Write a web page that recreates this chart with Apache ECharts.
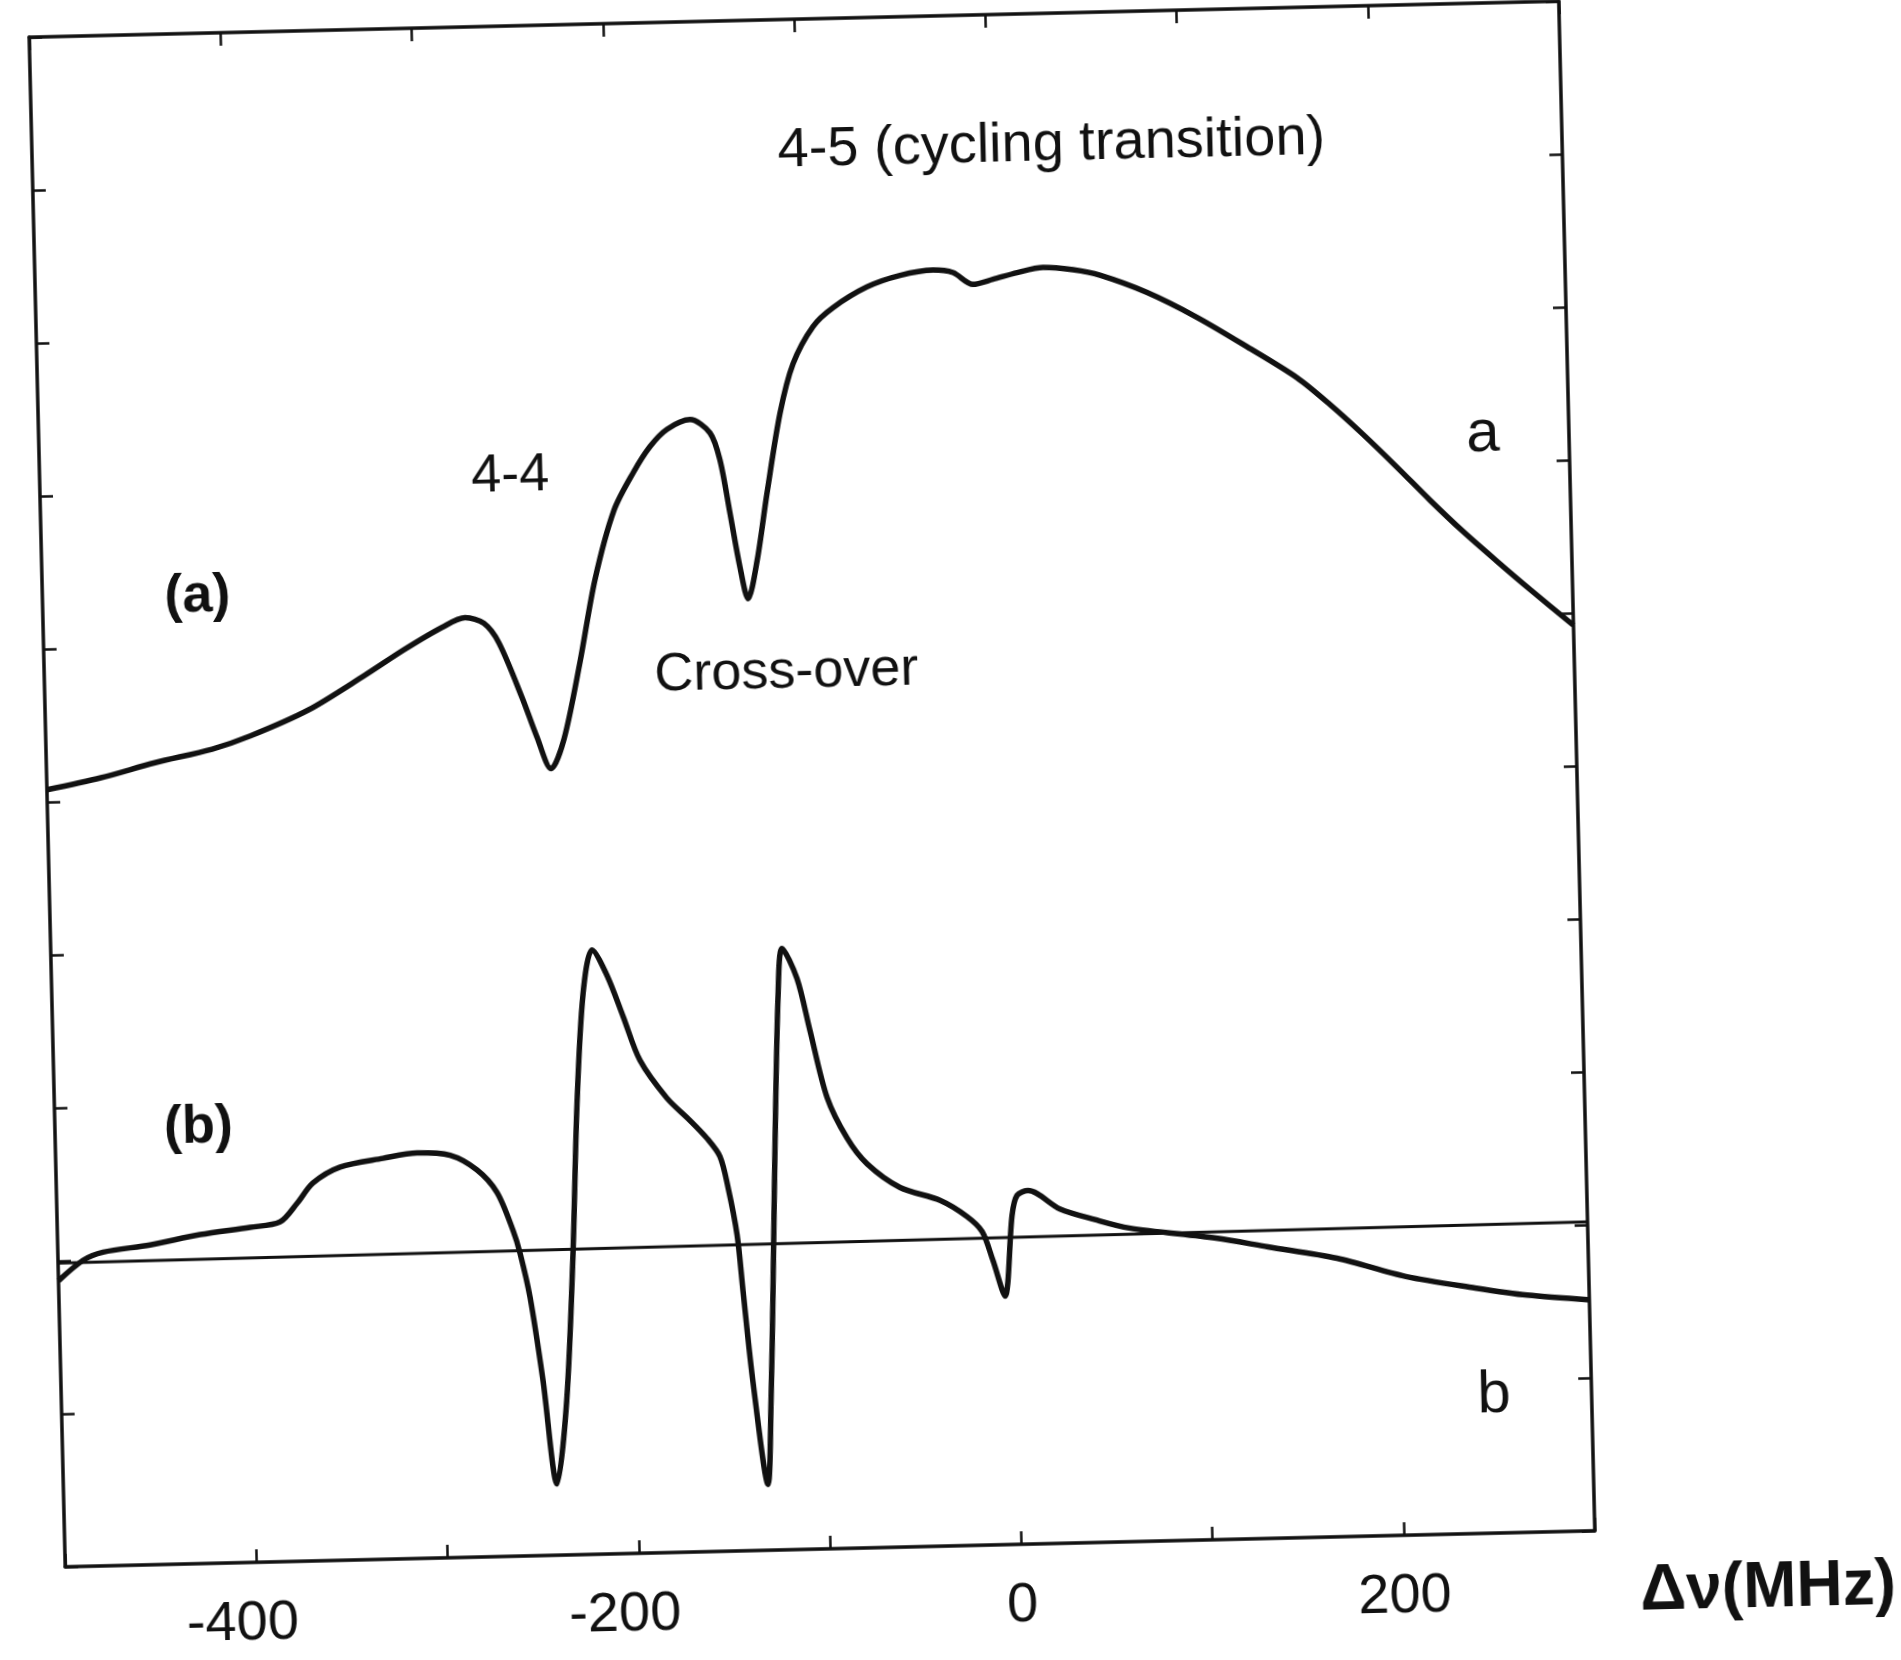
<!DOCTYPE html>
<html>
<head>
<meta charset="utf-8">
<script src="https://cdn.jsdelivr.net/npm/echarts@6/dist/echarts.min.js"></script>
<style>
  html, body { margin: 0; padding: 0; background: #fff; width: 1901px; height: 1660px; overflow: hidden; }
  #chart { position: absolute; left: 0; top: 0; width: 1901px; height: 1660px;
           transform-origin: 812px 784px; transform: rotate(-1.35deg); }
</style>
</head>
<body>
<div id="chart"></div>
<script>
// ---- data (Δν in MHz, signal in arbitrary units) ----
const freqA = [-500, -471.6, -443.2, -413.2, -393.1, -362.5, -332.3, -311.6, -291.5, -279.3,
  -269.5, -261.9, -250.5, -243.2, -236.2, -229.1, -219.8, -210.9, -200.1, -189.7,
  -180.5, -171.4, -159.3, -149.0, -144.1, -139.5, -135.0, -131.1, -125.9, -119.9,
  -112.1, -104.7, -93.8, -83.1, -65.1, -47.7, -30.4, -20.0, -9.7, 0.9,
  13.5, 27.1, 42.8, 56.8, 81.2, 107.0, 132.8, 158.5, 175.4, 192.3,
  209.7, 226.5, 243.4, 260.8, 277.8, 300];
const signalA = [50.8, 51.5, 52.4, 53.2, 54.0, 55.6, 57.8, 59.4, 60.8, 61.4,
  61.0, 59.7, 56.1, 53.5, 51.4, 53.3, 58.3, 63.7, 68.2, 70.6,
  72.3, 73.4, 74.0, 73.1, 71.3, 67.8, 64.3, 62.2, 64.7, 69.1,
  74.3, 77.5, 79.9, 81.1, 82.4, 83.1, 83.4, 83.2, 82.4, 82.7,
  83.1, 83.4, 83.2, 82.8, 81.6, 79.9, 77.9, 75.8, 74.0, 72.0,
  69.8, 67.6, 65.5, 63.5, 61.6, 59.2];

const freqB = [-500, -486.9, -476.4, -451.7, -425.4, -399.2, -383.5, -374.3, -365.8, -351.4,
  -328.9, -311.0, -293.8, -279.9, -269.7, -261.8, -258.4, -253.7, -248.0, -241.9,
  -235.8, -230.7, -226.8, -222.3, -217.0, -209.5, -201.6, -193.3, -179.7, -167.9,
  -159.2, -152.7, -148.9, -144.7, -142.3, -138.2, -131.6, -129.0, -126.6, -123.7,
  -120.3, -117.7, -110.2, -104.1, -96.0, -86.0, -75.9, -58.9, -38.2, -24.3,
  -16.6, -11.3, -5.4, -0.75, 2.1, 7.9, 24.4, 42.6, 60.3, 105.6,
  132.7, 168.6, 204.4, 240.4, 267.5, 300];
const signalB = [18.7, 20.0, 20.5, 20.9, 21.5, 21.9, 22.2, 23.4, 24.7, 25.7,
  26.2, 26.5, 26.3, 25.3, 23.8, 21.3, 19.8, 16.9, 11.5, 4.65,
  10.1, 19.7, 29.4, 36.6, 39.5, 37.8, 35.1, 32.2, 29.7, 28.2,
  27.0, 25.8, 23.8, 20.65, 17.0, 11.0, 4.3, 9.75, 17.0, 26.7,
  36.3, 39.3, 37.3, 33.9, 29.5, 26.8, 25.1, 23.5, 22.6, 21.5,
  20.5, 18.6, 16.25, 21.5, 22.8, 23.1, 21.85, 21.1, 20.5, 19.7,
  19.05, 18.2, 16.9, 16.05, 15.5, 15.1];

const baselineFreq = [-500, 300];
const baselineSignal = [19.85, 20.2];

const xTickLabels = [-400, -200, 0, 200];

// ---- rendering ----
const FONT = '"Liberation Sans", Arial, Helvetica, sans-serif';
const INK = '#111';
const zip = (xs, ys) => xs.map((x, i) => [x, ys[i]]);

const annotations = [
  { text: '4-5 (cycling transition)', x: 33, y: 91.4, size: 56, weight: 'normal' },
  { text: 'a', x: 255, y: 71.8, size: 60, weight: 'normal' },
  { text: '4-4', x: -254, y: 70.6, size: 54, weight: 'normal' },
  { text: '(a)', x: -419, y: 63.2, size: 54, weight: 'bold' },
  { text: 'Cross-over', x: -112, y: 57.3, size: 54, weight: 'normal' },
  { text: '(b)', x: -425, y: 28.5, size: 54, weight: 'bold' },
  { text: 'b', x: 249, y: 9.0, size: 60, weight: 'normal' }
];

const frameLine = { show: true, onZero: false, lineStyle: { color: INK, width: 3.5 } };
const innerTick = { show: true, inside: true, length: 13, lineStyle: { color: INK, width: 2.5 } };

const chart = echarts.init(document.getElementById('chart'), null, { renderer: 'canvas' });
chart.setOption({
  animation: false,
  backgroundColor: '#ffffff',
  grid: { left: 47, top: 19, width: 1530, height: 1530, containLabel: false },
  xAxis: [
    {
      type: 'value', min: -500, max: 300, interval: 100, position: 'bottom',
      axisLine: frameLine, axisTick: innerTick, splitLine: { show: false },
      axisLabel: {
        show: true, margin: 34, color: INK, fontFamily: FONT, fontSize: 56,
        formatter: v => {
          if (xTickLabels.indexOf(v) < 0) return '';
          return v < 0 ? '{neg|' + v + '}' : String(v);
        },
        rich: { neg: { color: INK, fontFamily: FONT, fontSize: 56, padding: [0, 30, 0, 0] } }
      },
      name: 'Δν(MHz)', nameLocation: 'end', nameGap: 44,
      nameTextStyle: { color: INK, fontFamily: FONT, fontSize: 64, fontWeight: 'bold',
                       align: 'left', verticalAlign: 'top', padding: [30, 0, 0, 0] }
    },
    {
      type: 'value', min: -500, max: 300, interval: 100, position: 'top',
      axisLine: frameLine, axisTick: innerTick, axisLabel: { show: false }, splitLine: { show: false }
    }
  ],
  yAxis: [
    {
      type: 'value', min: 0, max: 100, interval: 10, position: 'left',
      axisLine: frameLine, axisTick: innerTick, axisLabel: { show: false }, splitLine: { show: false }
    },
    {
      type: 'value', min: 0, max: 100, interval: 10, position: 'right',
      axisLine: frameLine, axisTick: innerTick, axisLabel: { show: false }, splitLine: { show: false }
    }
  ],
  series: [
    {
      name: 'a', type: 'line', xAxisIndex: 0, yAxisIndex: 0,
      data: zip(freqA, signalA), symbol: 'none', smooth: 0.3,
      lineStyle: { color: INK, width: 5.5 }, silent: true
    },
    {
      name: 'b', type: 'line', xAxisIndex: 0, yAxisIndex: 0,
      data: zip(freqB, signalB), symbol: 'none', smooth: 0.3,
      lineStyle: { color: INK, width: 5.5 }, silent: true
    },
    {
      name: 'baseline', type: 'line', xAxisIndex: 0, yAxisIndex: 0,
      data: zip(baselineFreq, baselineSignal), symbol: 'none',
      lineStyle: { color: INK, width: 3 }, silent: true,
      markPoint: {
        silent: true, symbol: 'circle', symbolSize: 1,
        itemStyle: { color: 'rgba(0,0,0,0)' },
        label: { show: true, position: 'inside', color: INK, fontFamily: FONT, formatter: p => p.name },
        data: annotations.map(a => ({
          name: a.text, coord: [a.x, a.y],
          label: { fontSize: a.size, fontWeight: a.weight }
        }))
      }
    }
  ]
});
</script>
</body>
</html>
